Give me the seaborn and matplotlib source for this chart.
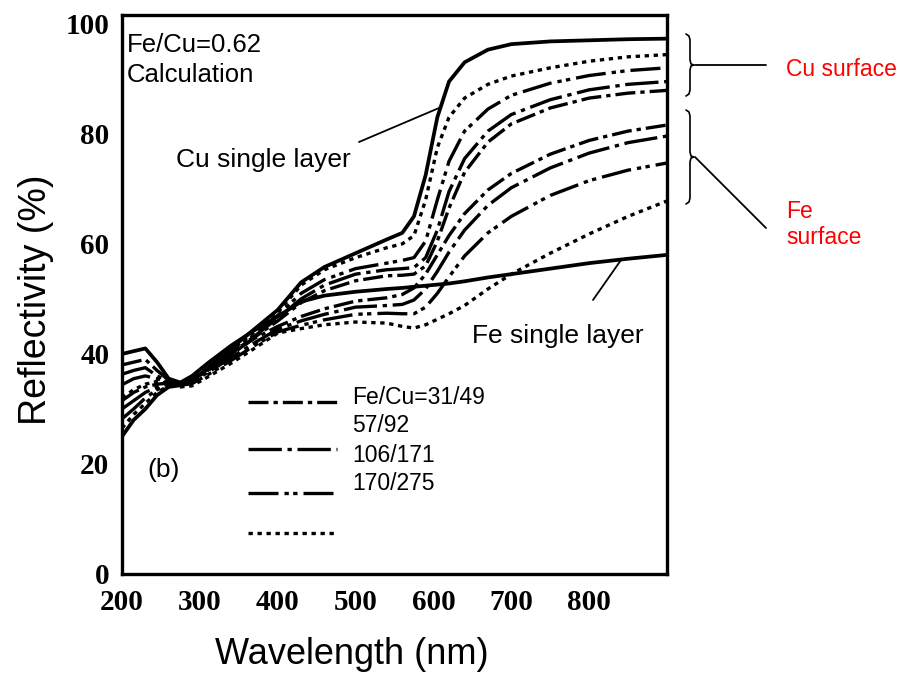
import numpy as np
import pandas as pd
import matplotlib
matplotlib.use("Agg")
import matplotlib.pyplot as plt
import seaborn as sns
from matplotlib.lines import Line2D

# ---------------- data ----------------
wavelength = [200, 215, 230, 245, 260, 275, 290, 310, 340, 370, 400, 430, 460, 500,
              540, 560, 575, 590, 605, 620, 640, 670, 700, 750, 800, 850, 900]

cu_single = [25.0, 28.0, 30.0, 32.5, 34.0, 34.3, 35.0, 37.5, 41.0, 44.5, 48.0, 53.0, 55.8, 58.3,
             60.8, 62.0, 65.0, 72.5, 83.0, 89.5, 93.0, 95.3, 96.3, 96.8, 97.0, 97.2, 97.3]
fe_single = [40.0, 40.5, 41.0, 38.5, 35.5, 34.8, 36.0, 38.3, 41.5, 44.3, 46.8, 49.5, 50.6, 51.3,
             51.8, 52.0, 52.2, 52.4, 52.6, 52.8, 53.2, 53.9, 54.5, 55.5, 56.5, 57.3, 58.0]

# Cu-surface multilayers
cu_170_275 = [26.5, 29.0, 31.0, 33.0, 34.2, 34.5, 35.0, 37.2, 40.6, 44.0, 47.5, 52.5, 55.3, 57.5,
              59.3, 60.0, 61.5, 68.0, 77.5, 83.0, 86.5, 89.0, 90.5, 92.0, 93.2, 94.0, 94.4]
cu_106_171 = [28.2, 30.0, 32.0, 33.5, 34.3, 34.6, 35.2, 37.0, 40.3, 43.5, 47.0, 51.0, 53.5, 55.5,
              56.5, 57.0, 57.5, 60.5, 68.0, 75.0, 80.5, 84.5, 87.0, 89.2, 90.6, 91.5, 92.0]
cu_57_92 = [30.0, 31.5, 33.0, 34.0, 34.5, 34.7, 35.4, 37.0, 40.0, 43.2, 46.5, 50.0, 52.5, 54.5,
            55.3, 55.5, 55.7, 57.5, 62.5, 69.5, 75.5, 80.5, 83.5, 86.2, 88.0, 89.0, 89.5]
cu_31_49 = [31.5, 33.0, 34.0, 34.5, 34.7, 34.8, 35.6, 37.0, 39.8, 43.0, 46.0, 49.3, 51.5, 53.3,
            54.2, 54.3, 54.5, 56.0, 60.5, 66.5, 73.0, 78.5, 81.8, 84.7, 86.5, 87.4, 87.9]

# Fe-surface multilayers
fe_31_49 = [38.0, 38.5, 39.0, 37.0, 35.2, 34.6, 35.4, 37.2, 40.0, 42.8, 45.0, 46.8, 48.2, 49.6,
            50.2, 50.8, 52.0, 54.5, 58.0, 61.5, 65.5, 69.8, 72.8, 76.3, 78.8, 80.5, 81.6]
fe_57_92 = [36.3, 37.0, 37.5, 36.0, 35.0, 34.5, 35.0, 36.6, 39.3, 42.0, 44.5, 46.0, 47.2, 48.5,
            48.8, 49.0, 49.8, 51.8, 55.0, 58.5, 62.5, 67.0, 70.2, 73.8, 76.5, 78.4, 79.6]
fe_106_171 = [34.4, 35.5, 36.0, 35.5, 34.8, 34.3, 34.6, 36.2, 38.8, 41.5, 44.0, 45.2, 46.2, 47.2,
              47.4, 47.3, 47.3, 48.5, 51.0, 54.0, 57.8, 62.0, 65.0, 68.8, 71.5, 73.4, 74.7]
fe_170_275 = [32.0, 33.5, 34.5, 35.0, 34.6, 34.0, 34.2, 35.8, 38.3, 41.0, 43.8, 44.6, 45.3, 45.8,
              45.6, 45.0, 44.7, 45.3, 46.3, 47.3, 48.8, 51.8, 54.5, 58.3, 61.8, 65.0, 67.8]

legend_labels = ["Fe/Cu=31/49", "57/92", "106/171", "170/275"]
x_ticks = [200, 300, 400, 500, 600, 700, 800]
y_ticks = [0, 20, 40, 60, 80, 100]

# ---------------- build tables ----------------
multi = [
    ("Cu 170/275", "170/275", cu_170_275), ("Cu 106/171", "106/171", cu_106_171),
    ("Cu 57/92", "57/92", cu_57_92), ("Cu 31/49", "31/49", cu_31_49),
    ("Fe 31/49", "31/49", fe_31_49), ("Fe 57/92", "57/92", fe_57_92),
    ("Fe 106/171", "106/171", fe_106_171), ("Fe 170/275", "170/275", fe_170_275),
]
rows = []
for name, sty, vals in multi:
    for w, v in zip(wavelength, vals):
        rows.append({"wavelength": w, "reflectivity": v, "curve": name, "style": sty})
df_multi = pd.DataFrame(rows)

rows = []
for name, vals in [("Cu single", cu_single), ("Fe single", fe_single)]:
    for w, v in zip(wavelength, vals):
        rows.append({"wavelength": w, "reflectivity": v, "curve": name})
df_single = pd.DataFrame(rows)

dash_map = {
    "31/49": (6.0, 1.5, 1.3, 1.5),
    "57/92": (10.0, 1.7, 1.3, 1.7),
    "106/171": (9.0, 1.8, 1.3, 1.3, 1.3, 1.8),
    "170/275": (1.3, 1.4),
}

# ---------------- figure ----------------
sns.set_theme(style="white")
plt.rcParams["font.family"] = ["Liberation Sans", "DejaVu Sans"]
plt.rcParams["text.color"] = "black"
plt.rcParams["axes.labelcolor"] = "black"
plt.rcParams["xtick.color"] = "black"
plt.rcParams["ytick.color"] = "black"

W, H = 903, 674
fig = plt.figure(figsize=(W / 100, H / 100), dpi=100)
ax = fig.add_axes([122 / W, 1 - 574 / H, 545 / W, 559 / H])

sns.lineplot(data=df_multi, x="wavelength", y="reflectivity", units="curve",
             style="style", dashes=dash_map, estimator=None, sort=False,
             color="black", lw=2.4, legend=False, ax=ax)
sns.lineplot(data=df_single, x="wavelength", y="reflectivity", units="curve",
             estimator=None, sort=False, color="black", lw=2.7, legend=False, ax=ax)

ax.set_xlim(200, 900)
ax.set_ylim(0, 101.6)
ax.set_xticks(x_ticks)
ax.set_yticks(y_ticks)
ax.set_xticklabels([str(t) for t in x_ticks])
ax.set_yticklabels([str(t) for t in y_ticks])
ax.tick_params(direction="in", length=7, width=2.2, color="black", pad=9)
for lbl in ax.get_xticklabels() + ax.get_yticklabels():
    lbl.set_fontfamily(["Liberation Serif", "DejaVu Serif"])
    lbl.set_fontweight("bold")
    lbl.set_fontsize(21)
    lbl.set_color("black")
ax.tick_params(axis="x", pad=11)
for s in ax.spines.values():
    s.set_linewidth(2.4)
    s.set_color("black")
ax.set_xlabel("")
ax.set_ylabel("")


def axp(px, py):
    return ((px - 122) / 545, (574 - py) / 559)


def figp(px, py):
    return (px / W, 1 - py / H)


# legend samples (drawn as in the reference)
leg_y = [402, 449, 493, 533]
leg_styles = ["31/49", "57/92", "106/171", "170/275"]
for py, sty in zip(leg_y, leg_styles):
    (x0, y0), (x1, y1) = axp(248, py), axp(337, py)
    ln = Line2D([x0, x1], [y0, y1], transform=ax.transAxes, color="black", lw=2.4)
    ln.set_dashes(dash_map[sty])
    ax.add_line(ln)

for py, lab in zip([397, 426, 455, 484], legend_labels):
    ax.text(*axp(352, py), lab, transform=ax.transAxes, fontsize=16.5,
            va="center", ha="left", color="black")

# in-plot text
ax.text(*axp(127, 45), "Fe/Cu=0.62", transform=ax.transAxes, fontsize=18.5, va="center",
        color="black")
ax.text(*axp(127, 75), "Calculation", transform=ax.transAxes, fontsize=18.5, va="center",
        color="black")
ax.text(*axp(176, 160), "Cu single layer", transform=ax.transAxes, fontsize=19, va="center",
        color="black")
ax.text(*axp(472, 336), "Fe single layer", transform=ax.transAxes, fontsize=19, va="center",
        color="black")
ax.text(*axp(147, 470), "(b)", transform=ax.transAxes, fontsize=19, va="center",
        color="black")

# pointer lines
for (a, b) in [((359, 142), (439, 108)), ((593, 300), (621, 260))]:
    p0, p1 = axp(*a), axp(*b)
    ax.add_line(Line2D([p0[0], p1[0]], [p0[1], p1[1]], transform=ax.transAxes,
                       color="black", lw=1.3))

# axis labels
fig.text(*figp(352, 655), "Wavelength (nm)", fontsize=26, ha="center", va="center",
         color="black")
fig.text(*figp(36, 300), "Reflectivity (%)", fontsize=27, ha="center", va="center",
         rotation=90, color="black")


# braces outside the axes
def brace(top, bottom, xl=686, xm=690, xt=694):
    mid = (top + bottom) / 2
    pts = [(xl, top), (xm - 1, top + 2), (xm, top + 6), (xm, mid - 5), (xm + 1, mid - 1),
           (xt, mid), (xm + 1, mid + 1), (xm, mid + 5), (xm, bottom - 6), (xm - 1, bottom - 2),
           (xl, bottom)]
    xs = [figp(*p)[0] for p in pts]
    ys = [figp(*p)[1] for p in pts]
    fig.add_artist(Line2D(xs, ys, transform=fig.transFigure, color="black", lw=1.2))
    return mid


m1 = brace(34, 96)
m2 = brace(110, 204)
for a, b in [((695, m1), (766, m1)), ((695, m2), (766, 228))]:
    p0, p1 = figp(*a), figp(*b)
    fig.add_artist(Line2D([p0[0], p1[0]], [p0[1], p1[1]], transform=fig.transFigure,
                          color="black", lw=1.3))

fig.text(*figp(786, 69), "Cu surface", fontsize=16.5, color="#ff0000", va="center")
fig.text(*figp(786, 211), "Fe", fontsize=16.5, color="#ff0000", va="center")
fig.text(*figp(786, 238), "surface", fontsize=16.5, color="#ff0000", va="center")

fig.savefig("out.png", dpi=100, facecolor="white")
